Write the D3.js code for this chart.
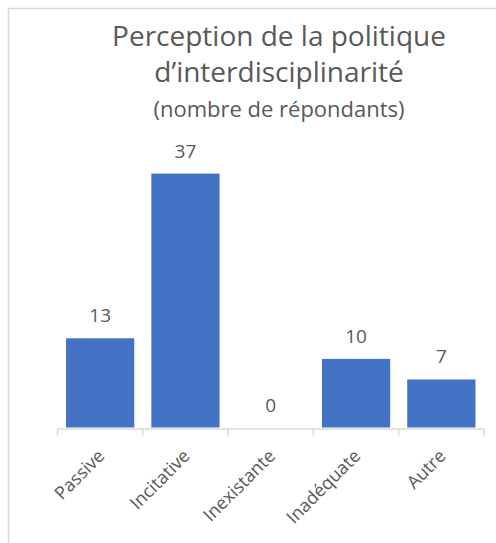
<!DOCTYPE html>
<html>
<head>
<meta charset="utf-8">
<script src="https://cdn.jsdelivr.net/npm/d3@7"></script>
<style>
	body { margin: 0; background: #fff; }
	svg text { font-family: "Open Sans", sans-serif; fill: #595959; }
</style>
</head>
<body>
<div id="chart"></div>
<script>
const categories = ["Passive", "Incitative", "Inexistante", "Inadéquate", "Autre"];
const values = [13, 37, 0, 10, 7];
const titleLines = ["Perception de la politique", "d’interdisciplinarité", "(nombre de répondants)"];

const width = 496, height = 543;
const plot = {left: 57.5, right: 484, top: 153, bottom: 427.5};

const svg = d3.select("#chart")
	.append("svg")
	.attr("width", width)
	.attr("height", height);

// chart frame (cropped on right / bottom)
svg.append("path")
	.attr("d", "M8.5," + height + "V8.5H" + width)
	.attr("fill", "none")
	.attr("stroke", "#d9d9d9")
	.attr("stroke-width", 1.5);

// title
const titleSizes = [28, 28, 22];
const titleY = [46, 82, 117];
svg.selectAll(".title")
	.data(titleLines)
	.enter().append("text")
	.attr("class", "title")
	.attr("x", 279)
	.attr("y", (d, i) => titleY[i])
	.attr("text-anchor", "middle")
	.style("font-size", (d, i) => titleSizes[i] + "px")
	.text(d => d);

const xScale = d3.scaleBand()
	.domain(categories)
	.range([plot.left, plot.right])
	.paddingInner(0.2)
	.paddingOuter(0.1);

const yScale = d3.scaleLinear()
	.domain([0, 40])
	.range([plot.bottom, plot.top]);

svg.selectAll(".bar")
	.data(values)
	.enter().append("rect")
	.attr("class", "bar")
	.attr("x", (d, i) => xScale(categories[i]))
	.attr("y", d => yScale(d))
	.attr("width", xScale.bandwidth())
	.attr("height", d => yScale(0) - yScale(d))
	.attr("fill", "#4472c4");

svg.selectAll(".value")
	.data(values)
	.enter().append("text")
	.attr("class", "value")
	.attr("x", (d, i) => xScale(categories[i]) + xScale.bandwidth() / 2)
	.attr("y", d => yScale(d) - 16)
	.attr("text-anchor", "middle")
	.style("font-size", "19px")
	.text(d => d);

// category axis: line + ticks at band boundaries
const step = xScale.step();
const tickXs = d3.range(categories.length + 1).map(i => plot.left + i * step);
const axis = svg.append("g").attr("class", "x-axis");
axis.append("line")
	.attr("x1", plot.left).attr("x2", plot.right)
	.attr("y1", plot.bottom + 1.5).attr("y2", plot.bottom + 1.5)
	.attr("stroke", "#d9d9d9").attr("stroke-width", 1.5);
axis.selectAll(".tick")
	.data(tickXs)
	.enter().append("line")
	.attr("x1", d => d).attr("x2", d => d)
	.attr("y1", plot.bottom + 1.5).attr("y2", plot.bottom + 8)
	.attr("stroke", "#d9d9d9").attr("stroke-width", 1.5);

axis.selectAll(".cat")
	.data(categories)
	.enter().append("text")
	.attr("class", "cat")
	.attr("transform", d => "translate(" + (xScale(d) + xScale.bandwidth() / 2 - 4) + "," + (plot.bottom + 20) + ") rotate(-45)")
	.attr("text-anchor", "end")
	.attr("dy", "0.75em")
	.style("font-size", "18px")
	.text(d => d);
</script>
</body>
</html>
